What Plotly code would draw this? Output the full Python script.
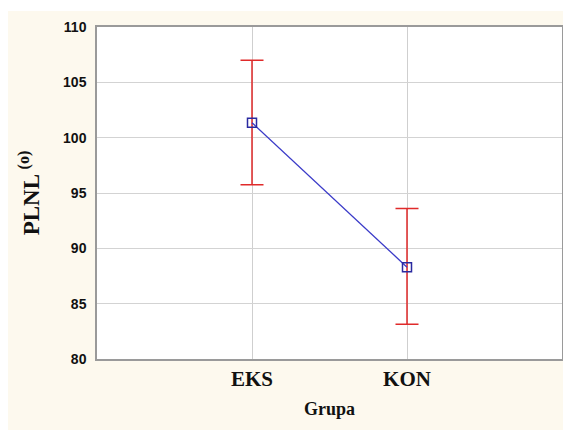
import plotly.graph_objects as go

categories = ["EKS", "KON"]
means = [101.35, 88.3]
err_plus = [5.65, 5.3]
err_minus = [5.6, 5.15]
y_ticks = [80, 85, 90, 95, 100, 105, 110]

cream = "#FDF9EE"

fig = go.Figure()
fig.add_trace(go.Scatter(
    x=categories, y=means, mode="lines+markers",
    line=dict(color="#3A3AC8", width=1.3),
    marker=dict(symbol="square-open", size=9, color="#2A2AA0", line=dict(width=1.5)),
    error_y=dict(type="data", symmetric=False, array=err_plus, arrayminus=err_minus,
                 color="#E02A2A", thickness=1.5, width=11.5),
    showlegend=False,
))

# white strip at very top (figure is offset by the page margin)
fig.add_shape(type="rect", xref="paper", yref="paper",
              x0=-0.3, x1=1.1, y0=(332 + 19 - 3) / 332, y1=1.2,
              fillcolor="white", line=dict(width=0), layer="below")

fig.update_layout(
    width=563, height=422,
    margin=dict(l=89, r=7, t=19, b=71),
    paper_bgcolor=cream, plot_bgcolor="white",
    xaxis=dict(type="category", range=[-1, 2], showgrid=True, gridcolor="#CFCFCF", gridwidth=1,
               showline=True, linecolor="#9A9A9A", linewidth=1.5, mirror=True,
               tickfont=dict(family="Liberation Serif, Times New Roman, serif", size=21, color="#111"),
               ticks="", zeroline=False,
               title=dict(text="<b>Grupa</b>", font=dict(family="Liberation Serif, Times New Roman, serif", size=18, color="#111"), standoff=12)),
    yaxis=dict(range=[80, 110], tickvals=y_ticks, showgrid=True, gridcolor="#D3D3D3", gridwidth=1,
               showline=True, linecolor="#9A9A9A", linewidth=1.5, mirror=True, zeroline=False,
               ticks="", ticklabelstandoff=6,
               tickfont=dict(family="Liberation Sans, Arial, sans-serif", size=14, color="#111", weight="bold"),
               title=dict(text="<b>PLNL <sup>(o)</sup></b>", font=dict(family="Liberation Serif, Times New Roman, serif", size=23, color="#111"), standoff=17)),
)
fig.update_xaxes(ticktext=["<b>EKS</b>", "<b>KON</b>"], tickvals=categories)

fig.write_html("out.html")
